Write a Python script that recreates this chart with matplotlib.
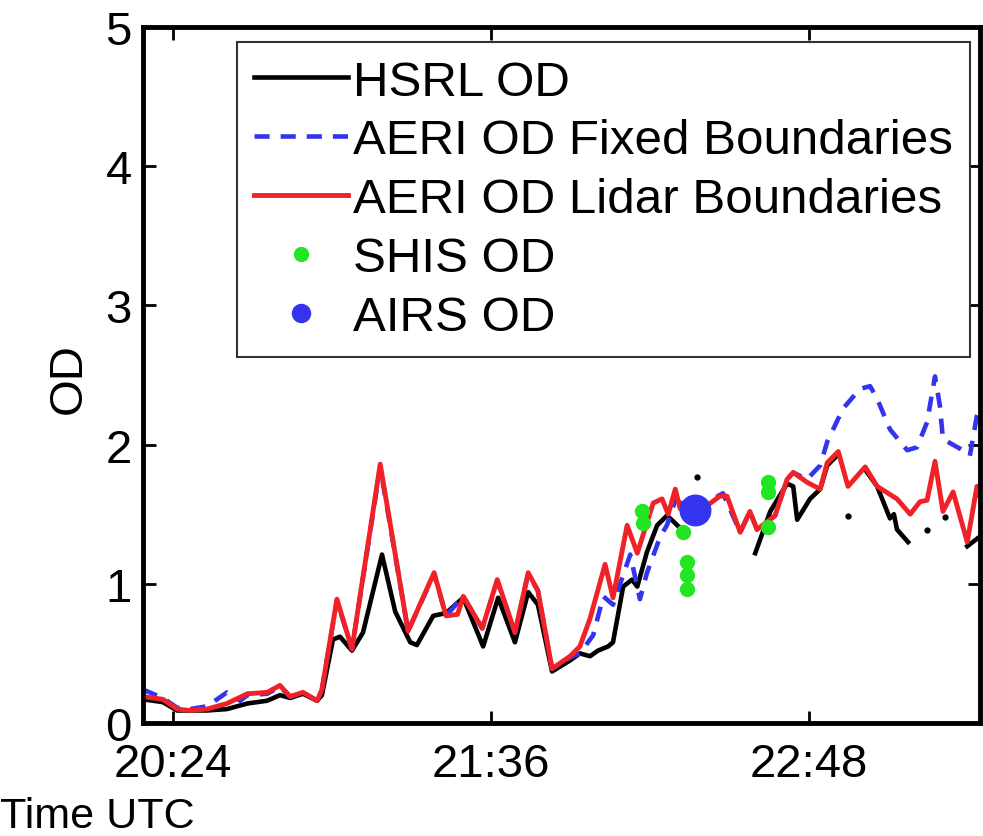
import numpy as np
import matplotlib
matplotlib.use("Agg")
import matplotlib.pyplot as plt

plt.rcParams["font.family"] = ["Liberation Sans", "DejaVu Sans"]

nan = np.nan

# time in minutes after 20:00 UTC, OD values
hsrl_t = [17.2, 21.7, 24.9, 31.7, 36.2, 40.8, 45.3, 48.2, 50.5, 53.4, 56.6, 57.7,
          60.2, 61.8, 64.5, 67.0, 71.3, 74.3, 77.7, 79.2, 82.9, 85.8, 89.7, 94.2,
          97.6, 101.4, 104.4, 106.6, 109.8, 113.9, 116.1, 118.4, 120.2, 122.5, 123.6,
          125.9, 127.9, 129.1, 131.3, 133.6, 135.8, 137.2, 138.8, 140.0,
          155.8, 159.2, 163.0, 164.4, 165.3, 168.2, 170.5, 172.1, 174.6, 175.5,
          180.7, 183.4, 186.3, 187.2, 187.9, 190.4, 191.5,
          203.8, 206.7, 207.8]
hsrl_od = [0.17, 0.15, 0.09, 0.09, 0.10, 0.14, 0.16, 0.20, 0.18, 0.21, 0.16, 0.20,
           0.60, 0.62, 0.52, 0.65, 1.21, 0.80, 0.58, 0.56, 0.77, 0.79, 0.90, 0.55,
           0.90, 0.58, 0.94, 0.85, 0.37, 0.45, 0.50, 0.48, 0.52, 0.55, 0.58,
           0.98, 1.03, 0.98, 1.23, 1.42, 1.49, 1.45, 1.40, nan,
           1.22, 1.52, 1.72, 1.70, 1.46, 1.61, 1.68, 1.85, 1.93, nan,
           1.82, 1.70, 1.47, 1.50, 1.39, 1.30, nan,
           1.27, 1.34, 1.35]
# isolated HSRL samples
hsrl_dot_t = [142.6, 176.8, 194.7, 198.8]
hsrl_dot_od = [1.77, 1.49, 1.39, 1.48]

fixed_t = [17.2, 21.7, 24.9, 27.8, 31.7, 36.2, 39.2, 40.8, 45.3, 48.2, 50.5, 53.4,
           56.6, 57.7, 61.1, 64.5, 70.9, 77.2, 83.1, 85.8, 89.7, 94.0, 97.4, 101.4,
           104.4, 106.6, 109.8, 113.9, 116.1, 119.1, 121.4, 123.6, 127.5, 129.7,
           131.3, 134.3, 135.8, 137.7, 141.0, 144.4, 148.5, 152.4, 154.6, 156.2,
           160.3, 163.0, 164.4, 167.5, 170.5, 172.1, 175.7, 179.5, 181.8, 183.4,
           186.3, 190.2, 192.4, 194.7, 196.5, 197.6, 198.3, 202.2, 204.4, 206.0, 207.8]
fixed_od = [0.24, 0.18, 0.11, 0.10, 0.12, 0.22, 0.16, 0.20, 0.21, 0.26, 0.19, 0.22,
            0.16, 0.24, 0.88, 0.53, 1.84, 0.66, 1.07, 0.77, 0.91, 0.68, 1.02, 0.65,
            1.07, 0.95, 0.39, 0.47, 0.50, 0.63, 0.91, 0.85, 1.21, 0.89,
            1.08, 1.34, 1.42, 1.60, 1.55, 1.58, 1.65, 1.37, 1.52, 1.39,
            1.49, 1.75, 1.80, 1.75, 1.85, 2.02, 2.26, 2.40, 2.42, 2.33,
            2.11, 1.96, 1.98, 2.16, 2.49, 2.28, 2.04, 1.97, 1.92, 2.21, 2.35]

lidar_t = [17.2, 21.7, 24.9, 27.8, 31.7, 36.2, 40.8, 45.3, 48.2, 50.5, 53.4, 56.6,
           57.7, 61.1, 64.5, 70.9, 77.2, 83.1, 85.8, 88.4, 89.7, 94.0, 97.4, 101.4,
           104.4, 106.6, 109.8, 113.9, 116.1, 118.4, 121.8, 123.6, 126.8, 129.1,
           132.7, 134.7, 136.1, 137.7, 138.8, 141.0, 144.4, 147.8, 149.4, 152.4,
           154.6, 156.2, 160.3, 163.0, 164.4, 167.5, 170.5, 172.1, 174.6, 176.8,
           180.7, 183.4, 187.9, 190.9, 193.1, 194.7, 196.5, 198.3, 200.6, 203.8,
           206.0, 207.8]
lidar_od = [0.19, 0.17, 0.10, 0.09, 0.10, 0.14, 0.21, 0.22, 0.27, 0.19, 0.22, 0.16,
            0.24, 0.89, 0.53, 1.86, 0.66, 1.08, 0.77, 0.78, 0.91, 0.68, 1.03, 0.65,
            1.08, 0.95, 0.39, 0.48, 0.55, 0.75, 1.14, 0.90, 1.42, 1.22,
            1.58, 1.61, 1.50, 1.68, 1.54, 1.52, 1.55, 1.63, 1.63, 1.37,
            1.52, 1.39, 1.49, 1.75, 1.80, 1.73, 1.68, 1.87, 1.95, 1.70,
            1.84, 1.70, 1.61, 1.50, 1.59, 1.60, 1.88, 1.52, 1.66, 1.30,
            1.70, 1.50]

shis_t = [130.2, 130.4, 139.5, 140.4, 140.4, 140.4, 158.7, 158.7, 158.7]
shis_od = [1.52, 1.44, 1.37, 1.16, 1.06, 0.96, 1.73, 1.66, 1.41]

airs_t = [142.2]
airs_od = [1.53]

tick_t = [24, 96, 168]
tick_labels = ["20:24", "21:36", "22:48"]

fig = plt.figure(figsize=(9.83, 8.37), dpi=100)
ax = fig.add_axes([0.1455, 0.135, 0.8515, 0.8315])

l_hsrl, = ax.plot(hsrl_t, hsrl_od, color="black", linewidth=3.3, label="HSRL OD")
ax.plot(hsrl_dot_t, hsrl_dot_od, "o", color="black", markersize=3.5)
l_fixed, = ax.plot(fixed_t, fixed_od, color="#3434ee", linewidth=3.3,
                   linestyle=(0, (3.3, 2.4)), label="AERI OD Fixed Boundaries")
l_lidar, = ax.plot(lidar_t, lidar_od, color="#f02228", linewidth=3.5,
                   label="AERI OD Lidar Boundaries")
l_shis, = ax.plot(shis_t, shis_od, "o", color="#22e622", markersize=10,
                  label="SHIS OD")
l_airs, = ax.plot(airs_t, airs_od, "o", color="#3434ee", markersize=22,
                  label="AIRS OD")

ax.set_xlim(17.2, 206.7)
ax.set_ylim(0, 5)
ax.set_xticks(tick_t, tick_labels)
ax.set_yticks([0, 1, 2, 3, 4, 5])

ax.tick_params(direction="in", top=True, right=True, length=9, width=2,
               labelsize=34)
ax.tick_params(axis="x", pad=14)
ax.tick_params(axis="y", pad=8)
for sp in ax.spines.values():
    sp.set_linewidth(3.5)

ax.set_ylabel("OD", fontsize=34)
ax.yaxis.set_label_coords(-0.062, 0.497)
ax.set_xlabel("Time UTC", fontsize=31, ha="left")
ax.xaxis.set_label_coords(-0.171, -0.105)

leg = ax.legend(handles=[l_hsrl, l_fixed, l_lidar, l_shis, l_airs],
                loc="upper right", bbox_to_anchor=(0.988, 0.978),
                borderaxespad=0, fontsize=35.5, handlelength=1.9,
                handletextpad=0.1, labelspacing=0.28, borderpad=0.35,
                fancybox=False, framealpha=1)
leg.get_frame().set_edgecolor("#333333")
leg.get_frame().set_linewidth(1.5)
leg.legend_handles[3].set_markersize(10)
leg.legend_handles[4].set_markersize(13)

fig.savefig("out.png", dpi=100)
